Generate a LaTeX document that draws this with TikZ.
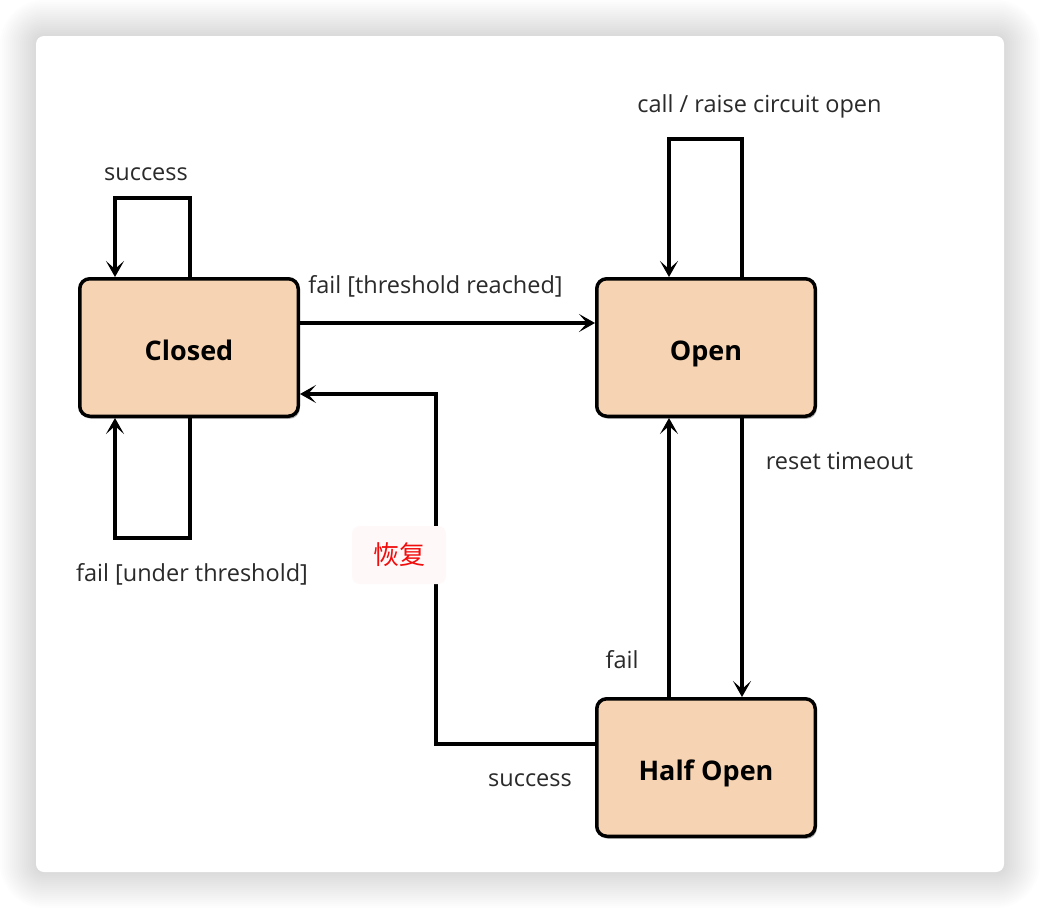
\documentclass[tikz,border=0pt]{standalone}
\usepackage{fontspec}
\setmainfont{Open Sans}
\newfontfamily\cjk{Noto Sans CJK SC}
\usetikzlibrary{arrows.meta,shadows}
\definecolor{peach}{HTML}{F6D3B2}
\definecolor{lblgray}{HTML}{2A2A2A}
\definecolor{redlbl}{HTML}{F20D0D}
\definecolor{pinkbg}{HTML}{FFF8F8}
\begin{document}
\begin{tikzpicture}[x=1pt,y=-1pt,
  state/.style={draw=black, line width=3.5pt, fill=peach, rounded corners=10pt,
    minimum width=218.5pt, minimum height=137.5pt, inner sep=0pt,
    text height=27pt, text depth=2pt,
    font=\bfseries\fontsize{27}{32}\selectfont,
    drop shadow={shadow xshift=1.5pt, shadow yshift=-2.5pt, opacity=0.3, fill=black}},
  lbl/.style={font=\fontsize{23.5}{28}\selectfont, text=lblgray, inner sep=0pt},
  conn/.style={draw=black, line width=3.5pt, -{Stealth[length=16pt,width=18pt,inset=8pt]}},
]
\useasboundingbox (0,0) rectangle (1040,908);
\fill[white] (0,0) rectangle (1040,908);
% card shadow
\foreach \i in {18,17,...,1}{
  \fill[black, opacity=0.009, rounded corners={8pt+2*\i pt}]
    ({36-2*\i},{36-2*\i}) rectangle ({1004+2*\i},{872+2*\i});
}
\fill[white, rounded corners=8pt] (36,36) rectangle (1004,872);

% states
\node[state] (closed) at (189,347.5) {Closed};
\node[state] (open) at (706,347.5) {Open};
\node[state] (half) at (706,767.5) {Half Open};

% connectors
\draw[conn] ([xshift=1pt]closed.north) -- ++(0,-79) -- ++(-75,0) -- ([xshift=-74pt]closed.north);
\draw[conn] ([xshift=1pt]closed.south) -- ++(0,120) -- ++(-75,0) -- ([xshift=-74pt]closed.south);
\draw[conn] ([yshift=24.5pt]closed.east) -- ([yshift=24.5pt]open.west);
\draw[conn] ([xshift=36pt]open.north) -- ++(0,-138) -- ++(-73,0) -- ([xshift=-37pt]open.north);
\draw[conn] ([xshift=36pt]open.south) -- ([xshift=36pt]half.north);
\draw[conn] ([xshift=-37pt]half.north) -- ([xshift=-37pt]open.south);
\draw[conn] ([yshift=23.5pt]half.west) -- ++(-159,0) |- ([yshift=-46.5pt]closed.east);

% labels
\node[lbl] (l1) at (146,174) {success};
\node[lbl] (l2) at (192,574) {fail [under threshold]};
\node[lbl] (l3) at (435.5,286) {fail [threshold reached]};
\node[lbl] (l4) at (759.5,106) {call / raise circuit open};
\node[lbl] (l5) at (839.5,461) {reset timeout};
\node[lbl] (l6) at (622,660) {fail};
\node[lbl] (l7) at (530,780) {success};
\node[fill=pinkbg, rounded corners=8pt, minimum width=94pt, minimum height=58pt,
  text=redlbl, font=\cjk\fontsize{26}{30}\selectfont] (l8) at (399,555) {恢复};
\end{tikzpicture}
\end{document}
